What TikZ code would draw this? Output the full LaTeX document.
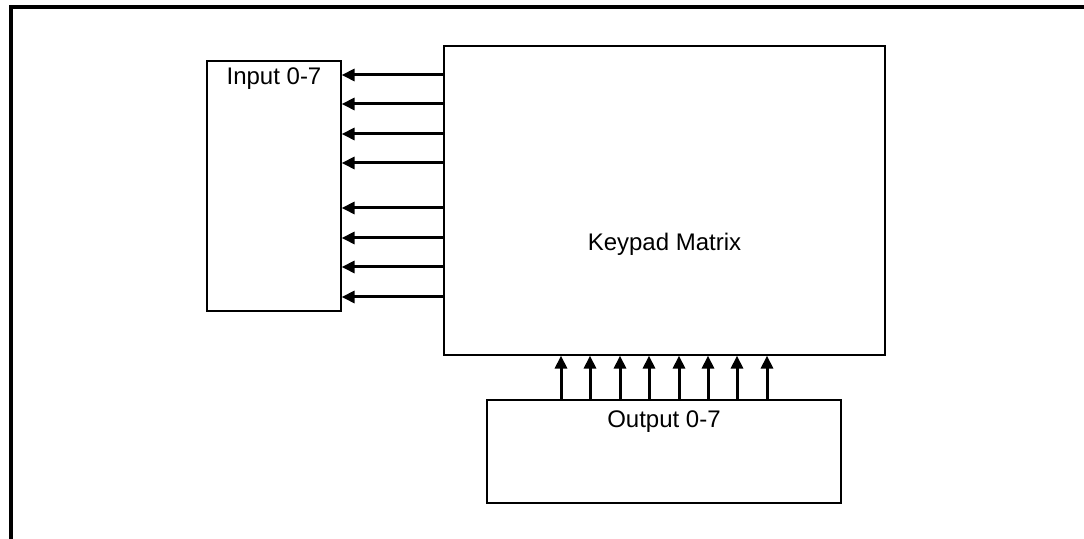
\documentclass[tikz,border=0pt]{standalone}
\usepackage{fontspec}
\setmainfont{Liberation Sans}
\usetikzlibrary{arrows.meta,positioning}
\tikzset{
  block/.style = {draw, line width=0.6pt, rectangle, inner sep=0pt},
  lbl/.style   = {inner sep=0pt},
  sig/.style   = {-{Triangle[length=6.5pt,width=6pt]}, line width=1.5pt},
  frame/.style = {line width=1.7pt},
}

\begin{document}
\begin{tikzpicture}[x=0.5pt,y=-0.5pt,font=\fontsize{12}{14}\selectfont]
\useasboundingbox (0,0) rectangle (1084,539);
\draw[frame] (11,539) -- (11,7) -- (1084,7);

\node[block, minimum width=67pt, minimum height=125pt] (inp) at (274,186) {};
\node[block, minimum width=220.5pt, minimum height=154.5pt] (kp) at (664.5,200.5) {};
\node[block, minimum width=177pt, minimum height=51.5pt] (out) at (664,451.5) {};

\node[lbl, below=3.5pt of inp.north] (inplab) {Input 0-7};
\node[lbl, below=93.5pt of kp.north] (kplab) {Keypad Matrix};
\node[lbl, below=5.5pt of out.north] (outlab) {Output 0-7};

% rows into the input port
\foreach \y in {75,104,134,163,208,238,267,297}
  \draw[sig] (kp.west |- 0,\y) -- (inp.east |- 0,\y);
% columns from the output port
\foreach \x in {561,590,620,649,679,708,737,767}
  \draw[sig] (out.north -| \x,0) -- (kp.south -| \x,0);
\end{tikzpicture}
\end{document}
